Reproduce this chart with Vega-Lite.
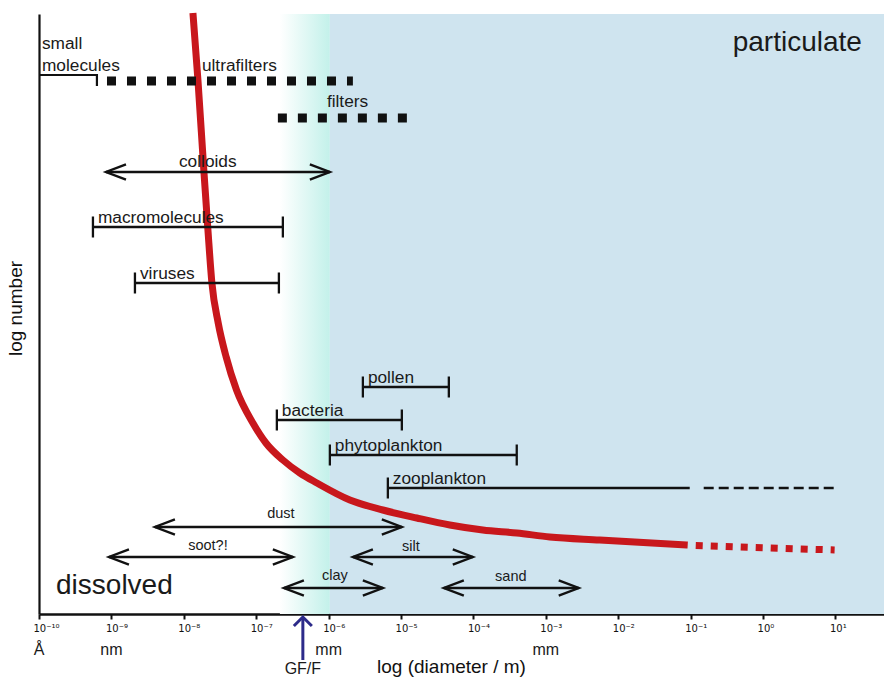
{
  "$schema": "https://vega.github.io/schema/vega-lite/v6.json",
  "width": 845,
  "height": 600,
  "autosize": {"type": "none"},
  "padding": {"left": 39, "top": 14, "right": 0, "bottom": 64},
  "background": "white",
  "config": {"view": {"stroke": null}, "font": "Liberation Sans"},
  "datasets": {
    "bg": [
      {"zone": "transition", "x": -6.673, "x2": -5.983, "y": 0, "y2": 600},
      {"zone": "particulate", "x": -5.983, "x2": 1.67, "y": 0, "y2": 600}
    ],
    "curve": [
      {"x": -7.874, "y": 601, "part": "measured"},
      {"x": -7.805, "y": 534, "part": "measured"},
      {"x": -7.722, "y": 442, "part": "measured"},
      {"x": -7.667, "y": 384, "part": "measured"},
      {"x": -7.612, "y": 331, "part": "measured"},
      {"x": -7.525, "y": 291, "part": "measured"},
      {"x": -7.415, "y": 257, "part": "measured"},
      {"x": -7.272, "y": 224, "part": "measured"},
      {"x": -7.046, "y": 191, "part": "measured"},
      {"x": -6.866, "y": 171, "part": "measured"},
      {"x": -6.632, "y": 154, "part": "measured"},
      {"x": -6.397, "y": 141, "part": "measured"},
      {"x": -6.162, "y": 131, "part": "measured"},
      {"x": -5.707, "y": 114, "part": "measured"},
      {"x": -5.251, "y": 104, "part": "measured"},
      {"x": -4.782, "y": 96, "part": "measured"},
      {"x": -4.326, "y": 89, "part": "measured"},
      {"x": -3.871, "y": 84, "part": "measured"},
      {"x": -3.401, "y": 81, "part": "measured"},
      {"x": -2.946, "y": 77, "part": "measured"},
      {"x": -2.256, "y": 74, "part": "measured"},
      {"x": -1.041, "y": 69, "part": "measured"},
      {"x": -0.930, "y": 68.5, "part": "extrapolated"},
      {"x": 0.988, "y": 64, "part": "extrapolated"}
    ],
    "filters": [
      {"name": "ultrafilters", "x": -9.061, "x2": -5.665, "y": 533},
      {"name": "filters", "x": -6.701, "x2": -4.906, "y": 496}
    ],
    "bracket": [
      {"k": 1, "x": -10, "y": 539},
      {"k": 2, "x": -9.2, "y": 539},
      {"k": 3, "x": -9.2, "y": 528}
    ],
    "ranges": [
      {"name": "macromolecules", "x": -9.255, "x2": -6.632, "y": 387},
      {"name": "viruses", "x": -8.675, "x2": -6.687, "y": 331},
      {"name": "pollen", "x": -5.527, "x2": -4.34, "y": 227},
      {"name": "bacteria", "x": -6.715, "x2": -4.989, "y": 194},
      {"name": "phytoplankton", "x": -5.983, "x2": -3.402, "y": 159},
      {"name": "zooplankton", "x": -5.182, "x2": -1.013, "y": 126}
    ],
    "ext": [
      {"name": "zooplankton", "x": -0.82, "x2": 0.975, "y": 126}
    ],
    "arrows": [
      {"name": "colloids", "x": -9.075, "x2": -5.983, "y": 442},
      {"name": "dust", "x": -8.399, "x2": -4.989, "y": 87},
      {"name": "soot?!", "x": -9.034, "x2": -6.494, "y": 57},
      {"name": "silt", "x": -5.665, "x2": -4.009, "y": 57},
      {"name": "clay", "x": -6.618, "x2": -5.251, "y": 26},
      {"name": "sand", "x": -4.409, "x2": -2.546, "y": 26}
    ],
    "gff": [
      {"name": "GF/F", "x": -6.356, "y": -46, "y2": -3}
    ],
    "labels": [
      {"text": "small", "x": -9.959, "y": 565, "kind": "name"},
      {"text": "molecules", "x": -9.959, "y": 543, "kind": "name"},
      {"text": "ultrafilters", "x": -7.75, "y": 543, "kind": "name"},
      {"text": "filters", "x": -6.024, "y": 507, "kind": "name"},
      {"text": "colloids", "x": -8.067, "y": 447, "kind": "name"},
      {"text": "dust", "x": -6.659, "y": 96, "kind": "fraction"},
      {"text": "soot?!", "x": -7.667, "y": 64, "kind": "fraction"},
      {"text": "silt", "x": -4.865, "y": 63, "kind": "fraction"},
      {"text": "clay", "x": -5.914, "y": 34, "kind": "fraction"},
      {"text": "sand", "x": -3.484, "y": 33, "kind": "fraction"},
      {"text": "dissolved", "x": -9.765, "y": 20, "kind": "phase"},
      {"text": "particulate", "x": -0.42, "y": 563, "kind": "phase"},
      {"text": "Å", "x": -10, "y": -41, "kind": "unit"},
      {"text": "nm", "x": -9, "y": -41, "kind": "unit"},
      {"text": "mm", "x": -6, "y": -41, "kind": "unit"},
      {"text": "mm", "x": -3, "y": -41, "kind": "unit"},
      {"text": "GF/F", "x": -6.356, "y": -60, "kind": "unit"}
    ]
  },
  "encoding": {
    "x": {
      "field": "x", "type": "quantitative",
      "scale": {"domain": [-10, 1.67], "nice": false, "zero": false},
      "axis": {
        "title": "log (diameter / m)",
        "values": [-10, -9, -8, -7, -6, -5, -4, -3, -2, -1, 0, 1],
        "labelExpr": "datum.value == -10 ? '10⁻¹⁰' : datum.value == -9 ? '10⁻⁹' : datum.value == -8 ? '10⁻⁸' : datum.value == -7 ? '10⁻⁷' : datum.value == -6 ? '10⁻⁶' : datum.value == -5 ? '10⁻⁵' : datum.value == -4 ? '10⁻⁴' : datum.value == -3 ? '10⁻³' : datum.value == -2 ? '10⁻²' : datum.value == -1 ? '10⁻¹' : datum.value == 0 ? '10⁰' : '10¹'",
        "grid": false,
        "labelFlush": false,
        "labelOverlap": false,
        "labelAlign": "left",
        "labelOffset": -6,
        "labelFont": "DejaVu Sans",
        "labelFontSize": 10,
        "labelColor": "#111111",
        "labelPadding": 4,
        "tickSize": 5,
        "tickWidth": 2,
        "tickColor": "#111111",
        "domainColor": "#111111",
        "domainWidth": 2.5,
        "titleFont": "Liberation Sans",
        "titleFontSize": 19,
        "titleFontWeight": "normal",
        "titleColor": "#111111",
        "titleX": 412,
        "titleY": 58,
        "titleAlign": "center",
        "titleBaseline": "alphabetic"
      }
    },
    "y": {
      "field": "y", "type": "quantitative",
      "scale": {"domain": [0, 600], "nice": false, "zero": false},
      "axis": {
        "title": "log number",
        "labels": false,
        "ticks": false,
        "grid": false,
        "domainColor": "#111111",
        "domainWidth": 2.2,
        "titleFont": "Liberation Sans",
        "titleFontSize": 19,
        "titleFontWeight": "normal",
        "titleColor": "#111111",
        "titleX": -17.5,
        "titleY": 294,
        "titleAngle": 270,
        "titleAlign": "center",
        "titleBaseline": "alphabetic"
      }
    }
  },
  "layer": [
    {
      "data": {"name": "bg"},
      "transform": [{"filter": "datum.zone == 'transition'"}],
      "mark": {"type": "rect", "color": {"gradient": "linear", "x1": 0, "y1": 0, "x2": 1, "y2": 0, "stops": [{"offset": 0, "color": "#ffffff"}, {"offset": 1, "color": "#c3f1ea"}]}},
      "encoding": {"x2": {"field": "x2"}, "y2": {"field": "y2"}}
    },
    {
      "data": {"name": "bg"},
      "transform": [{"filter": "datum.zone == 'particulate'"}],
      "mark": {"type": "rect", "color": "#cfe4ef"},
      "encoding": {"x2": {"field": "x2"}, "y2": {"field": "y2"}}
    },
    {
      "data": {"name": "curve"},
      "transform": [{"filter": "datum.part == 'measured'"}],
      "mark": {"type": "line", "color": "#c8171c", "strokeWidth": 7, "interpolate": "monotone", "strokeCap": "butt"},
      "encoding": {}
    },
    {
      "data": {"name": "curve"},
      "transform": [{"filter": "datum.part == 'extrapolated'"}],
      "mark": {"type": "line", "color": "#c8171c", "strokeWidth": 7, "strokeDash": [7, 8], "strokeCap": "butt"},
      "encoding": {}
    },
    {
      "data": {"name": "filters"},
      "mark": {"type": "rule", "color": "#111111", "strokeWidth": 9, "strokeDash": [9, 11], "strokeCap": "butt"},
      "encoding": {"x2": {"field": "x2"}}
    },
    {
      "data": {"name": "bracket"},
      "mark": {"type": "line", "color": "#111111", "strokeWidth": 2.2, "strokeJoin": "miter"},
      "encoding": {"order": {"field": "k", "type": "quantitative"}}
    },
    {
      "data": {"name": "ranges"},
      "mark": {"type": "rule", "color": "#111111", "strokeWidth": 2.3},
      "encoding": {"x2": {"field": "x2"}}
    },
    {
      "data": {"name": "ranges"},
      "transform": [
        {"fold": ["x", "x2"], "as": ["end", "x"]},
        {"filter": "!(datum.name == 'zooplankton' && datum.end == 'x2')"}
      ],
      "mark": {"type": "tick", "orient": "vertical", "color": "#111111", "size": 21, "thickness": 2.3, "opacity": 1},
      "encoding": {}
    },
    {
      "data": {"name": "ext"},
      "mark": {"type": "rule", "color": "#111111", "strokeWidth": 2.3, "strokeDash": [10, 5]},
      "encoding": {"x2": {"field": "x2"}}
    },
    {
      "data": {"name": "arrows"},
      "mark": {"type": "rule", "color": "#111111", "strokeWidth": 2.3},
      "encoding": {"x2": {"field": "x2"}}
    },
    {
      "data": {"name": "arrows"},
      "transform": [{"fold": ["x", "x2"], "as": ["end", "x"]}],
      "mark": {"type": "point", "filled": false, "color": "#111111", "strokeWidth": 2.4, "size": 1600, "opacity": 1},
      "encoding": {
        "shape": {"field": "end", "type": "nominal", "legend": null,
          "scale": {"domain": ["x", "x2"], "range": ["M1,-0.38L0,0L1,0.38", "M-1,-0.38L0,0L-1,0.38"]}}
      }
    },
    {
      "data": {"name": "gff"},
      "mark": {"type": "rule", "color": "#2d2b8a", "strokeWidth": 3},
      "encoding": {"y2": {"field": "y2"}}
    },
    {
      "data": {"name": "gff"},
      "mark": {"type": "point", "filled": false, "color": "#2d2b8a", "strokeWidth": 3, "size": 324, "opacity": 1, "shape": "M-1,1L0,0L1,1"},
      "encoding": {
        "y": {"field": "y2", "type": "quantitative", "scale": {"domain": [0, 600], "nice": false, "zero": false}}
      }
    },
    {
      "data": {"name": "ranges"},
      "mark": {"type": "text", "align": "left", "baseline": "alphabetic", "dx": 5, "dy": -4.5, "fontSize": 17.3, "font": "Liberation Sans", "color": "#1a1a1a"},
      "encoding": {"text": {"field": "name"}}
    },
    {
      "data": {"name": "labels"},
      "transform": [{"filter": "datum.kind == 'name'"}],
      "mark": {"type": "text", "align": "left", "baseline": "alphabetic", "fontSize": 17.3, "font": "Liberation Sans", "color": "#1a1a1a"},
      "encoding": {"text": {"field": "text"}}
    },
    {
      "data": {"name": "labels"},
      "transform": [{"filter": "datum.kind == 'fraction'"}],
      "mark": {"type": "text", "align": "center", "baseline": "alphabetic", "fontSize": 14.5, "font": "Liberation Sans", "color": "#1a1a1a"},
      "encoding": {"text": {"field": "text"}}
    },
    {
      "data": {"name": "labels"},
      "transform": [{"filter": "datum.kind == 'phase'"}],
      "mark": {"type": "text", "align": "left", "baseline": "alphabetic", "fontSize": 28, "font": "Liberation Sans", "color": "#1a1a1a"},
      "encoding": {"text": {"field": "text"}}
    },
    {
      "data": {"name": "labels"},
      "transform": [{"filter": "datum.kind == 'unit'"}],
      "mark": {"type": "text", "align": "center", "baseline": "alphabetic", "fontSize": 16, "font": "Liberation Sans", "color": "#1a1a1a"},
      "encoding": {"text": {"field": "text"}}
    }
  ]
}
